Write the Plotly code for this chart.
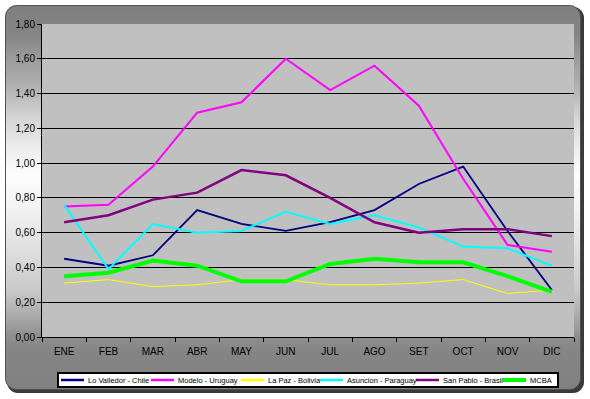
import base64
import plotly.graph_objects as go

months = ["ENE", "FEB", "MAR", "ABR", "MAY", "JUN", "JUL", "AGO", "SET", "OCT", "NOV", "DIC"]

lo_valledor = [0.45, 0.41, 0.47, 0.73, 0.65, 0.61, 0.66, 0.73, 0.88, 0.98, 0.61, 0.27]
modelo = [0.75, 0.76, 0.98, 1.29, 1.35, 1.60, 1.42, 1.56, 1.33, 0.91, 0.53, 0.49]
la_paz = [0.31, 0.33, 0.29, 0.30, 0.33, 0.33, 0.30, 0.30, 0.31, 0.33, 0.25, 0.27]
asuncion = [0.76, 0.39, 0.65, 0.60, 0.61, 0.72, 0.65, 0.70, 0.63, 0.52, 0.51, 0.41]
san_pablo = [0.66, 0.70, 0.79, 0.83, 0.96, 0.93, 0.80, 0.66, 0.60, 0.62, 0.62, 0.58]
mcba = [0.35, 0.37, 0.44, 0.41, 0.32, 0.32, 0.42, 0.45, 0.43, 0.43, 0.35, 0.26]

series_names = ["Lo Valledor - Chile", "Modelo - Uruguay", "La Paz - Bolivia",
                "Asuncion - Paraguay", "San Pablo - Brasil", "MCBA"]
series_values = [lo_valledor, modelo, la_paz, asuncion, san_pablo, mcba]
series_colors = ["#000080", "#ff00ff", "#ffff00", "#00ffff", "#800080", "#00ff00"]
series_widths = [1.8, 2, 1, 2, 2.5, 4]

W, H = 590, 399
L, R, T, B = 42, 16, 24, 62
pw, ph = W - L - R, H - T - B


def px_x(v):
    return (v - L) / pw


def px_y(v):
    return 1 - (v - T) / ph


stops = [(0.0, "#7f7f7f"), (0.08, "#858585"), (0.13, "#999999"), (0.21, "#b0b0b0"),
         (0.29, "#d4d4d4"), (0.37, "#ececec"), (0.44, "#fdfdfd"), (0.52, "#f4f4f4"),
         (0.64, "#dedede"), (0.74, "#cacaca"), (0.81, "#aaaaaa"), (0.86, "#8f8f8f"),
         (0.90, "#858585"), (1.0, "#808080")]
stop_xml = "".join(f'<stop offset="{o}" stop-color="{c}"/>' for o, c in stops)
svg = (f'<svg xmlns="http://www.w3.org/2000/svg" width="{W}" height="{H}" viewBox="0 0 {W} {H}">'
       f'<defs><linearGradient id="g" x1="0" y1="0" x2="0" y2="1">{stop_xml}</linearGradient></defs>'
       f'<rect x="7" y="7" width="577" height="386" rx="11" fill="#3a3a3a"/>'
       f'<rect x="5.5" y="5.5" width="575" height="384" rx="11" fill="url(#g)" stroke="#505050" stroke-width="1"/>'
       f'</svg>')
src = "data:image/svg+xml;base64," + base64.b64encode(svg.encode()).decode()

fig = go.Figure()
for name, vals, col, w in zip(series_names, series_values, series_colors, series_widths):
    fig.add_trace(go.Scatter(x=months, y=vals, name=name, mode="lines",
                             line=dict(color=col, width=w), showlegend=False))

font = "Liberation Sans, Arial, sans-serif"

shapes = [dict(type="rect", xref="paper", yref="paper", x0=0, x1=1, y0=0, y1=1,
               fillcolor="#c0c0c0", line=dict(width=0), layer="below"),
          dict(type="rect", xref="paper", yref="paper",
               x0=px_x(58), x1=px_x(558), y0=px_y(387), y1=px_y(373),
               fillcolor="white", line=dict(color="black", width=2), layer="above")]
annotations = []
legend_starts = [61, 151, 241, 320, 416, 503]
sw_len = 23
legend_y = 380
for name, col, w, x0 in zip(series_names, series_colors, series_widths, legend_starts):
    shapes.append(dict(type="line", xref="paper", yref="paper",
                       x0=px_x(x0), x1=px_x(x0 + sw_len), y0=px_y(legend_y), y1=px_y(legend_y),
                       line=dict(color=col, width=max(w, 2.5)), layer="above"))
    annotations.append(dict(text=name, xref="paper", yref="paper",
                            x=px_x(x0 + sw_len + 2), y=px_y(legend_y + 0.5),
                            xanchor="left", yanchor="middle", showarrow=False,
                            font=dict(size=7.5, family=font, color="black")))

fig.update_layout(
    width=W, height=H,
    margin=dict(l=L, r=R, t=T, b=B, pad=0, autoexpand=False),
    paper_bgcolor="white",
    plot_bgcolor="rgba(0,0,0,0)",
    separators=",.",
    font=dict(family=font, size=10, color="black"),
    images=[dict(source=src, xref="paper", yref="paper",
                 x=-L / pw, y=1 + T / ph, sizex=W / pw, sizey=H / ph,
                 xanchor="left", yanchor="top", sizing="stretch", layer="below")],
    shapes=shapes,
    annotations=annotations,
    hovermode=False,
    xaxis=dict(showgrid=False, showline=True, linecolor="black", linewidth=1,
               range=[-0.5, 11.5], ticklabelstandoff=5,
               ticks="outside", ticklen=4, tickcolor="black", tickson="boundaries",
               tickfont=dict(size=10), zeroline=False),
    yaxis=dict(range=[0, 1.8], dtick=0.2, tickformat=".2f", showgrid=True,
               gridcolor="black", gridwidth=1, showline=True, linecolor="black",
               linewidth=1, ticks="outside", ticklen=4, tickcolor="black",
               tickfont=dict(size=10), zeroline=False),
    showlegend=False,
)

fig.write_html("out.html", config={"displayModeBar": False},
               post_script="document.body.style.margin='0';")
